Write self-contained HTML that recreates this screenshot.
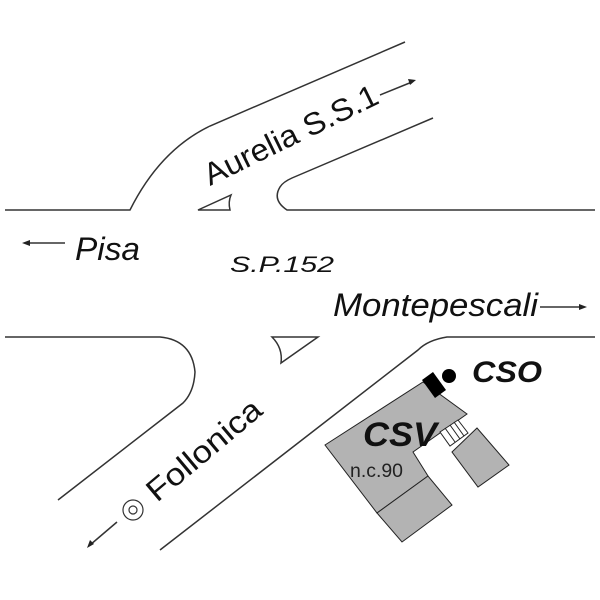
<!DOCTYPE html>
<html><head><style>body{margin:0;background:#fff}svg{display:block}</style></head><body>
<svg width="600" height="600" viewBox="0 0 600 600" xmlns="http://www.w3.org/2000/svg" font-family="Liberation Sans, sans-serif">
<g fill="none" stroke="#333" stroke-width="1.5">
<path d="M5 210 H130 Q160 150 210 126 L405 42"/>
<path d="M595 210 H287 Q272 200 280 187 Q283 182 292 178 L433 118"/>
<path d="M198 210 H230 Q228 202 231 195 Z"/>
<path d="M5 337 H160 Q192 340 195 372 Q194 392 183 403 L58 500"/>
<path d="M595 337 H447 Q428 340 418 350 L160 550"/>
<path d="M272 337 H318 L281 363 Q283 348 272 337 Z"/>
<line x1="25" y1="243" x2="65" y2="243"/>
<line x1="540" y1="307" x2="582" y2="307"/>
<line x1="380" y1="95" x2="412" y2="82"/>
<line x1="117" y1="522" x2="90" y2="545"/>
<circle cx="133" cy="510" r="10" stroke-width="1.2"/>
<circle cx="133" cy="510" r="4" stroke-width="1.2"/>
</g>
<g fill="#222">
<path d="M22 243 l8 -3 v6z"/>
<path d="M587 307 l-8 -3 v6z"/>
<path d="M416 80 l-8 -1 l2 6z"/>
<path d="M87 548 l3 -8 l4 4z"/>
</g>
<g fill="#b3b3b3" stroke="#222" stroke-width="1">
<polygon points="325,445 423,382 467,414 413,452 428,476 377,513"/>
<polygon points="377,513 428,476 452,505 402,542"/>
<polygon points="452,452 477,428 509,465 478,487"/>
<polygon points="440,432 458,420 468,433 450,446" fill="#fff"/>
</g>
<g stroke="#222" stroke-width="1"><line x1="445" y1="428" x2="455" y2="442"/><line x1="450" y1="425" x2="460" y2="439"/><line x1="454" y1="422" x2="464" y2="436"/></g>
<polygon points="422,380 433,372 446,390 435,398" fill="#000"/>
<circle cx="449" cy="376" r="7" fill="#000"/>
<g fill="#111" font-style="italic">
<text x="75" y="260" font-size="32" textLength="65" lengthAdjust="spacingAndGlyphs">Pisa</text>
<text x="230" y="272" font-size="22" textLength="104" lengthAdjust="spacingAndGlyphs">S.P.152</text>
<text x="333" y="316" font-size="32" textLength="205" lengthAdjust="spacingAndGlyphs">Montepescali</text>
<text x="472" y="382" font-size="30" font-weight="bold" textLength="70" lengthAdjust="spacingAndGlyphs">CSO</text>
<text x="363" y="446" font-size="34" font-weight="bold" textLength="74" lengthAdjust="spacingAndGlyphs">CSV</text>
</g>
<text x="350" y="477" font-size="19" fill="#222" textLength="53" lengthAdjust="spacingAndGlyphs">n.c.90</text>
<text transform="translate(210,186) rotate(-26)" font-size="31" fill="#111" textLength="190" lengthAdjust="spacingAndGlyphs">Aurelia S.S.1</text>
<text transform="translate(157,503) rotate(-40)" font-size="31" fill="#111" textLength="140" lengthAdjust="spacingAndGlyphs">Follonica</text>
</svg>
</body></html>
